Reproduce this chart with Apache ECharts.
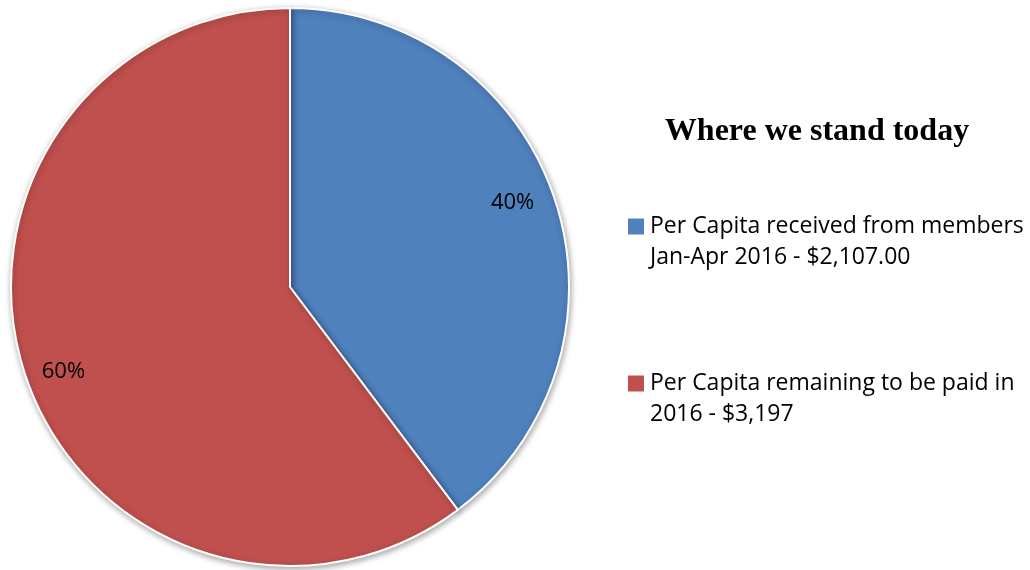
<!DOCTYPE html>
<html>
<head>
<meta charset="utf-8">
<script src="https://cdn.jsdelivr.net/npm/echarts@6/dist/echarts.min.js"></script>
<style>
  html, body { margin: 0; padding: 0; background: #fff; }
  #main { width: 1030px; height: 570px; }
</style>
</head>
<body>
<div id="main"></div>
<script>
// data
const titleText = "Where we stand today";
const categories = ["Received", "Remaining"];
const values = [2107, 3197];
const legendLines = [
  "Per Capita received from members\nJan-Apr 2016 - $2,107.00",
  "Per Capita remaining to be paid in\n2016 - $3,197"
];
const colors = ["#4F81BD", "#C0504D"];

const chartDom = document.getElementById("main");
const myChart = echarts.init(chartDom);

const font = "'Open Sans', 'Noto Sans', sans-serif";

// small nudges so the percent labels sit like the original
const labelOffsets = [[-5, -8], [1, 9]];

const pieData = categories.map((c, i) => ({ name: c, value: values[i] }));
const labelData = categories.map((c, i) => ({
  name: c,
  value: values[i],
  label: { offset: labelOffsets[i] }
}));

// one legend per item; a blank first line keeps the marker on the first text line
const legendTops = [175, 332];
const legends = categories.map((c, i) => ({
  data: [c],
  left: 621,
  top: legendTops[i],
  orient: "vertical",
  icon: "rect",
  itemWidth: 18,
  itemHeight: 18,
  selectedMode: false,
  formatter: () => "\n" + legendLines[i],
  textStyle: {
    fontFamily: font,
    fontSize: 23,
    lineHeight: 31,
    color: "#000"
  }
}));

const option = {
  color: colors,
  animation: false,
  title: {
    text: titleText,
    left: 812,
    textAlign: "center",
    top: 111,
    textStyle: {
      fontFamily: "'Liberation Serif', 'Times New Roman', serif",
      fontWeight: "bold",
      fontSize: 32,
      color: "#000"
    }
  },
  legend: legends,
  series: [
    {
      // the pie itself
      type: "pie",
      center: [290, 287],
      radius: [0, 279],
      startAngle: 90,
      clockwise: true,
      silent: true,
      label: { show: false },
      labelLine: { show: false },
      itemStyle: {
        borderColor: "#fff",
        borderWidth: 2,
        shadowBlur: 6,
        shadowColor: "rgba(0,0,0,0.35)",
        shadowOffsetX: 1,
        shadowOffsetY: 2
      },
      data: pieData
    },
    {
      // invisible ring that only carries the percent labels
      type: "pie",
      center: [290, 287],
      radius: [195, 279],
      startAngle: 90,
      clockwise: true,
      silent: true,
      itemStyle: { color: "transparent" },
      label: {
        show: true,
        position: "inside",
        formatter: p => Math.round(p.percent) + "%",
        fontFamily: font,
        fontSize: 22,
        color: "#000"
      },
      labelLine: { show: false },
      data: labelData
    }
  ]
};

myChart.setOption(option);
</script>
</body>
</html>
